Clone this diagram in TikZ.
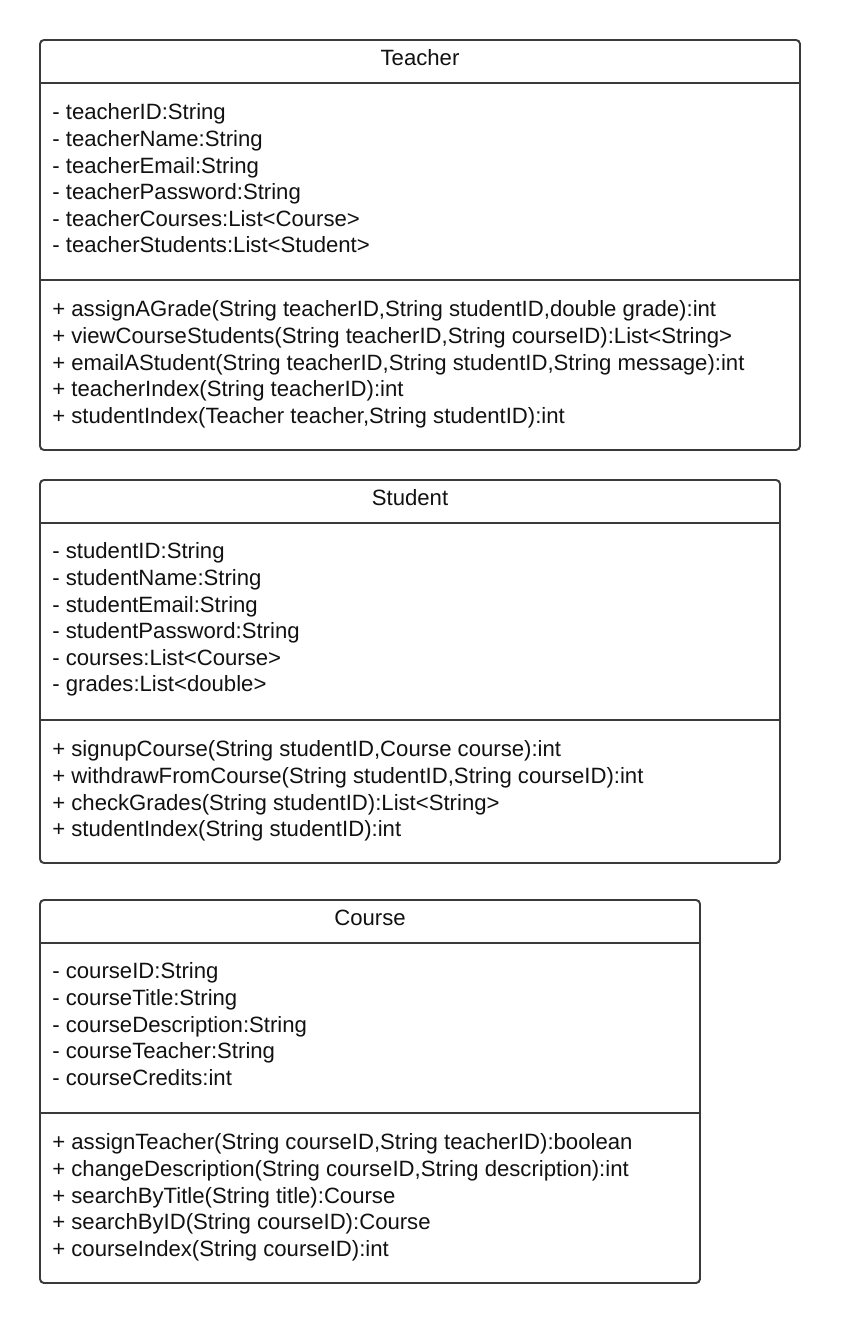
\documentclass[tikz,border=0pt]{standalone}
\usepackage{fontspec}
\setmainfont{Liberation Sans}
\newcommand{\umlfont}{\fontsize{12.6pt}{15.15pt}\selectfont}
\definecolor{umlline}{HTML}{3A3A3A}
\definecolor{umltext}{HTML}{111111}
\tikzset{
  classbox/.style={draw=umlline, line width=1.1pt, rounded corners=0.08cm},
  classsep/.style={draw=umlline, line width=1.1pt},
  classtitle/.style={text=umltext, inner sep=0pt, font=\umlfont},
  members/.style={text=umltext, inner sep=0pt, anchor=north west, align=left, font=\umlfont},
}
\begin{document}
\begin{tikzpicture}[x=0.02cm, y=-0.02cm]
    \useasboundingbox (0,0) rectangle (840,1324);

    % Teacher
    \draw[classbox] (40,40) rectangle (800,450);
    \draw[classsep] (40,83) -- (800,83);
    \draw[classsep] (40,280) -- (800,280);
    \node[classtitle] (teachertitle) at (420,58) {Teacher};
    \node[members] (teacherattr) at (52,103.5) {- teacherID:String\\- teacherName:String\\- teacherEmail:String\\- teacherPassword:String\\- teacherCourses:List<Course>\\- teacherStudents:List<Student>};
    \node[members] (teacherops) at (52,300.5) {+ assignAGrade(String teacherID,String studentID,double grade):int\\+ viewCourseStudents(String teacherID,String courseID):List<String>\\+ emailAStudent(String teacherID,String studentID,String message):int\\+ teacherIndex(String teacherID):int\\+ studentIndex(Teacher teacher,String studentID):int};

    % Student
    \draw[classbox] (40,480) rectangle (780,863);
    \draw[classsep] (40,523) -- (780,523);
    \draw[classsep] (40,720) -- (780,720);
    \node[classtitle] (studenttitle) at (410,498) {Student};
    \node[members] (studentattr) at (52,542.5) {- studentID:String\\- studentName:String\\- studentEmail:String\\- studentPassword:String\\- courses:List<Course>\\- grades:List<double>};
    \node[members] (studentops) at (52,740.5) {+ signupCourse(String studentID,Course course):int\\+ withdrawFromCourse(String studentID,String courseID):int\\+ checkGrades(String studentID):List<String>\\+ studentIndex(String studentID):int};

    % Course
    \draw[classbox] (40,900) rectangle (700,1283);
    \draw[classsep] (40,943) -- (700,943);
    \draw[classsep] (40,1113) -- (700,1113);
    \node[classtitle] (coursetitle) at (370,918) {Course};
    \node[members] (courseattr) at (52,962.5) {- courseID:String\\- courseTitle:String\\- courseDescription:String\\- courseTeacher:String\\- courseCredits:int};
    \node[members] (courseops) at (52,1133.5) {+ assignTeacher(String courseID,String teacherID):boolean\\+ changeDescription(String courseID,String description):int\\+ searchByTitle(String title):Course\\+ searchByID(String courseID):Course\\+ courseIndex(String courseID):int};
\end{tikzpicture}
\end{document}
